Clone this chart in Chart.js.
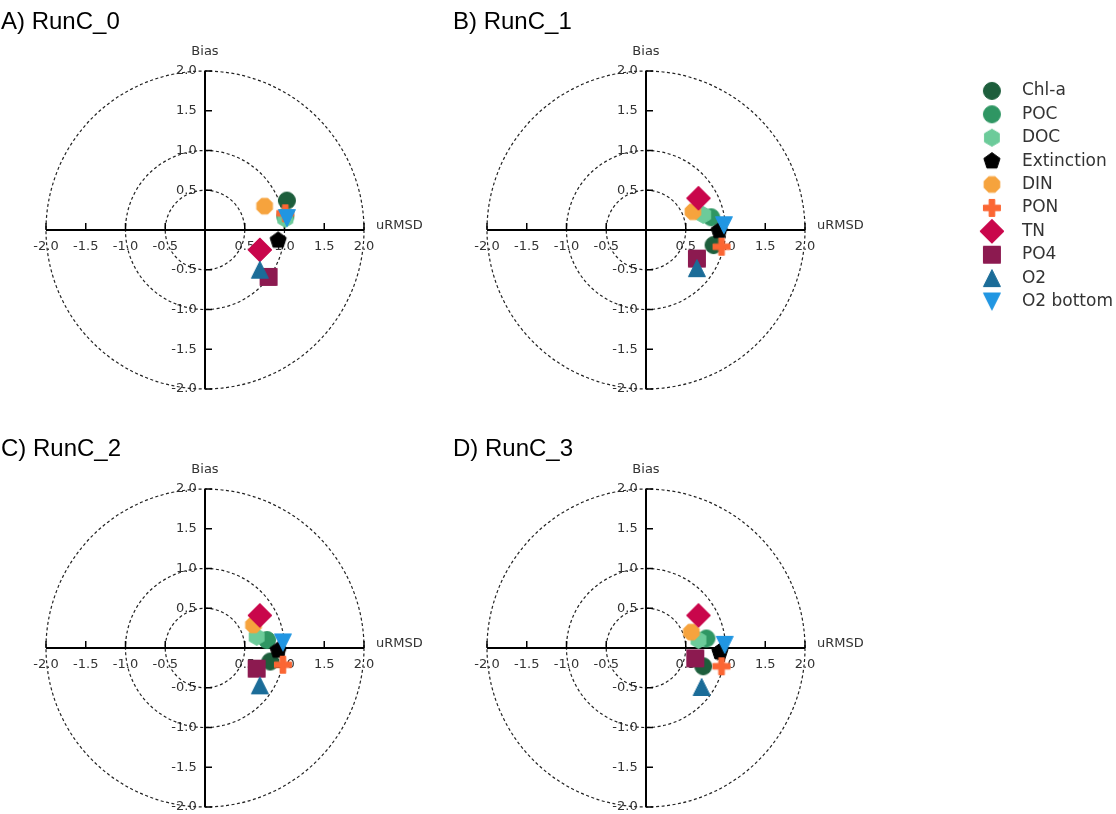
<!DOCTYPE html>
<html lang="en">
<head>
<meta charset="UTF-8">
<title>RunC target diagrams</title>
<script src="https://cdn.jsdelivr.net/npm/chart.js"></script>
<style>
  body { margin: 0; background: #fff; }
  #page { position: relative; width: 1116px; height: 814px; overflow: hidden; }
  .title {
    position: absolute; z-index: 2; white-space: nowrap;
    font-family: 'Liberation Sans', Arial, sans-serif; font-size: 24px; line-height: 24px; color: #000;
  }
  .panel { position: absolute; width: 440px; height: 440px; }
  #legendBox { position: absolute; left: 964px; top: 76px; width: 152px; height: 262px; }
</style>
</head>
<body>
<div id="page">
  <div class="title" style="left:1px;top:9px">A) RunC_0</div>
  <div class="title" style="left:453px;top:9px">B) RunC_1</div>
  <div class="title" style="left:1px;top:436px">C) RunC_2</div>
  <div class="title" style="left:453px;top:436px">D) RunC_3</div>

  <div class="panel" style="left:-15px;top:10px"><canvas id="panelA" width="440" height="440"></canvas></div>
  <div class="panel" style="left:426px;top:10px"><canvas id="panelB" width="440" height="440"></canvas></div>
  <div class="panel" style="left:-15px;top:428px"><canvas id="panelC" width="440" height="440"></canvas></div>
  <div class="panel" style="left:426px;top:428px"><canvas id="panelD" width="440" height="440"></canvas></div>
  <div id="legendBox"><canvas id="legend" width="152" height="262"></canvas></div>
</div>

<script>
// variables, in legend order (later ones are drawn on top)
const variables = ['Chl-a', 'POC', 'DOC', 'Extinction', 'DIN', 'PON', 'TN', 'PO4', 'O2', 'O2 bottom'];
const markerShapes = ['o', 'o', 'h', 'p', '8', 'P', 'D', 's', '^', 'v'];
const markerColors = ['#1d5e3c', '#2f9663', '#6ccb9a', '#000000', '#f6a33d', '#fb6633',
                      '#c9064b', '#8c1a50', '#1b6c98', '#2196e2'];

// axis ticks and rings
const tickValues = [-2.0, -1.5, -1.0, -0.5, 0.5, 1.0, 1.5, 2.0];
const ringRadii = [0.5, 1.0, 2.0];
const xAxisTitle = 'uRMSD';
const yAxisTitle = 'Bias';

// normalised uRMSD (x) and bias (y) per run
const runC0_urmsd = [1.03, 1.01, 1.01, 0.92, 0.75, 1.01, 0.69, 0.80, 0.69, 1.03];
const runC0_bias  = [0.37, 0.17, 0.14, -0.13, 0.30, 0.21, -0.25, -0.59, -0.50, 0.15];

const runC1_urmsd = [0.85, 0.82, 0.72, 0.92, 0.59, 0.95, 0.66, 0.64, 0.64, 0.98];
const runC1_bias  = [-0.19, 0.16, 0.19, -0.01, 0.23, -0.21, 0.40, -0.36, -0.48, 0.06];

const runC2_urmsd = [0.82, 0.78, 0.65, 0.92, 0.61, 0.98, 0.69, 0.65, 0.69, 0.98];
const runC2_bias  = [-0.17, 0.10, 0.14, -0.03, 0.29, -0.21, 0.41, -0.26, -0.47, 0.07];

const runC3_urmsd = [0.72, 0.76, 0.66, 0.93, 0.57, 0.95, 0.66, 0.62, 0.70, 0.99];
const runC3_bias  = [-0.23, 0.12, 0.10, -0.05, 0.20, -0.23, 0.41, -0.13, -0.49, 0.04];

const markerSize = 17;          // like matplotlib markersize, in px
const pxPerUnit = 79.5;
const axisReach = 200 / pxPerUnit;  // chart area is 400px wide

// matplotlib-like filled markers, drawn once on small canvases
function makeMarker(shape, color) {
  const m = markerSize, r = m / 2;
  const s = 32;
  const c = document.createElement('canvas');
  c.width = s; c.height = s;
  const g = c.getContext('2d');
  g.translate(s / 2, s / 2);
  g.fillStyle = color;
  g.strokeStyle = color;
  g.lineWidth = 1;
  g.beginPath();
  const poly = (n, rad, rot) => {
    for (let k = 0; k < n; k++) {
      const a = rot + k * 2 * Math.PI / n;
      g.lineTo(rad * Math.sin(a), -rad * Math.cos(a));
    }
    g.closePath();
  };
  switch (shape) {
    case 'o': g.arc(0, 0, r, 0, 2 * Math.PI); break;
    case 'h': poly(6, r, 0); break;
    case 'p': poly(5, r, 0); break;
    case '8': poly(8, r, Math.PI / 8); break;
    case 's': g.rect(-r, -r, m, m); break;
    case 'D': poly(4, r * Math.SQRT2, 0); break;
    case '^': g.moveTo(0, -r); g.lineTo(r, r); g.lineTo(-r, r); g.closePath(); break;
    case 'v': g.moveTo(0, r); g.lineTo(r, -r); g.lineTo(-r, -r); g.closePath(); break;
    case 'P': {
      const a = m / 6;
      const pts = [[-a, -r], [a, -r], [a, -a], [r, -a], [r, a], [a, a], [a, r], [-a, r], [-a, a], [-r, a], [-r, -a], [-a, -a]];
      pts.forEach(([px, py]) => g.lineTo(px, py));
      g.closePath();
      break;
    }
  }
  g.fill();
  g.stroke();
  return c;
}
const markerImages = markerShapes.map((sh, i) => makeMarker(sh, markerColors[i]));

// rings, axis lines, inward ticks and axis titles
const targetDecor = {
  id: 'targetDecor',
  beforeDatasetsDraw(chart) {
    const {ctx, scales: {x, y}} = chart;
    const x0 = x.getPixelForValue(0), y0 = y.getPixelForValue(0);
    const unit = x.getPixelForValue(1) - x0;
    const lo = tickValues[0], hi = tickValues[tickValues.length - 1];
    ctx.save();
    ctx.strokeStyle = '#222';
    ctx.lineWidth = 1.2;
    ctx.setLineDash([3, 2.5]);
    ringRadii.forEach(r => {
      ctx.beginPath();
      ctx.arc(x0, y0, r * unit, 0, 2 * Math.PI);
      ctx.stroke();
    });
    ctx.setLineDash([]);

    ctx.strokeStyle = '#000';
    ctx.lineWidth = 2;
    ctx.beginPath();
    ctx.moveTo(x.getPixelForValue(lo), y0);
    ctx.lineTo(x.getPixelForValue(hi), y0);
    ctx.moveTo(x0, y.getPixelForValue(lo));
    ctx.lineTo(x0, y.getPixelForValue(hi));
    ctx.stroke();

    ctx.lineWidth = 1.5;
    ctx.beginPath();
    tickValues.forEach(v => {
      const px = x.getPixelForValue(v);
      ctx.moveTo(px, y0);
      ctx.lineTo(px, y0 - 7);
      const py = y.getPixelForValue(v);
      ctx.moveTo(x0, py);
      ctx.lineTo(x0 + 7, py);
    });
    ctx.stroke();

    ctx.fillStyle = '#333';
    ctx.font = '13px "DejaVu Sans"';
    ctx.textAlign = 'center';
    ctx.textBaseline = 'bottom';
    ctx.fillText(yAxisTitle, x0, y.getPixelForValue(hi) - 13);
    ctx.textAlign = 'left';
    ctx.textBaseline = 'middle';
    ctx.fillText(xAxisTitle, x.getPixelForValue(hi) + 12, y0 - 4);
    ctx.restore();
  }
};

const tickFont = {family: "'DejaVu Sans'", size: 13};

function makePanel(canvasId, urmsd, bias) {
  return new Chart(document.getElementById(canvasId), {
    type: 'scatter',
    data: {
      datasets: variables.map((name, i) => ({
        label: name,
        data: [{x: urmsd[i], y: bias[i]}],
        pointStyle: markerImages[i],
        pointRadius: 8,
        order: -i
      }))
    },
    options: {
      responsive: false,
      animation: false,
      devicePixelRatio: 1,
      layout: {padding: 20},
      plugins: {legend: {display: false}, tooltip: {enabled: false}},
      scales: {
        x: {
          type: 'linear', min: -axisReach, max: axisReach,
          position: {y: 0},
          afterBuildTicks: s => { s.ticks = tickValues.map(v => ({value: v})); },
          grid: {display: false, drawTicks: false},
          border: {display: false},
          ticks: {color: '#333', font: tickFont, padding: 9, maxRotation: 0, autoSkip: false,
                  callback: v => v.toFixed(1)}
        },
        y: {
          type: 'linear', min: -axisReach, max: axisReach,
          position: {x: 0},
          afterBuildTicks: s => { s.ticks = tickValues.map(v => ({value: v})); },
          grid: {display: false, drawTicks: false},
          border: {display: false},
          ticks: {color: '#333', font: tickFont, padding: 6, autoSkip: false,
                  callback: v => v.toFixed(1) + '  '}
        }
      }
    },
    plugins: [targetDecor]
  });
}

makePanel('panelA', runC0_urmsd, runC0_bias);
makePanel('panelB', runC1_urmsd, runC1_bias);
makePanel('panelC', runC2_urmsd, runC2_bias);
makePanel('panelD', runC3_urmsd, runC3_bias);

// shared legend, text runs off the right edge like the original
new Chart(document.getElementById('legend'), {
  type: 'scatter',
  data: {
    datasets: variables.map((name, i) => ({
      label: name,
      data: [],
      pointStyle: markerImages[i],
      backgroundColor: markerColors[i],
      borderColor: markerColors[i]
    }))
  },
  options: {
    responsive: false,
    animation: false,
    devicePixelRatio: 1,
    layout: {padding: 0},
    scales: {x: {display: false}, y: {display: false}},
    plugins: {
      tooltip: {enabled: false},
      legend: {
        position: 'chartArea',
        align: 'start',
        labels: {
          usePointStyle: true,
          pointStyleWidth: 43,
          padding: 6.4,
          color: '#333',
          font: {family: "'DejaVu Sans'", size: 17}
        }
      }
    }
  }
});
</script>
</body>
</html>
